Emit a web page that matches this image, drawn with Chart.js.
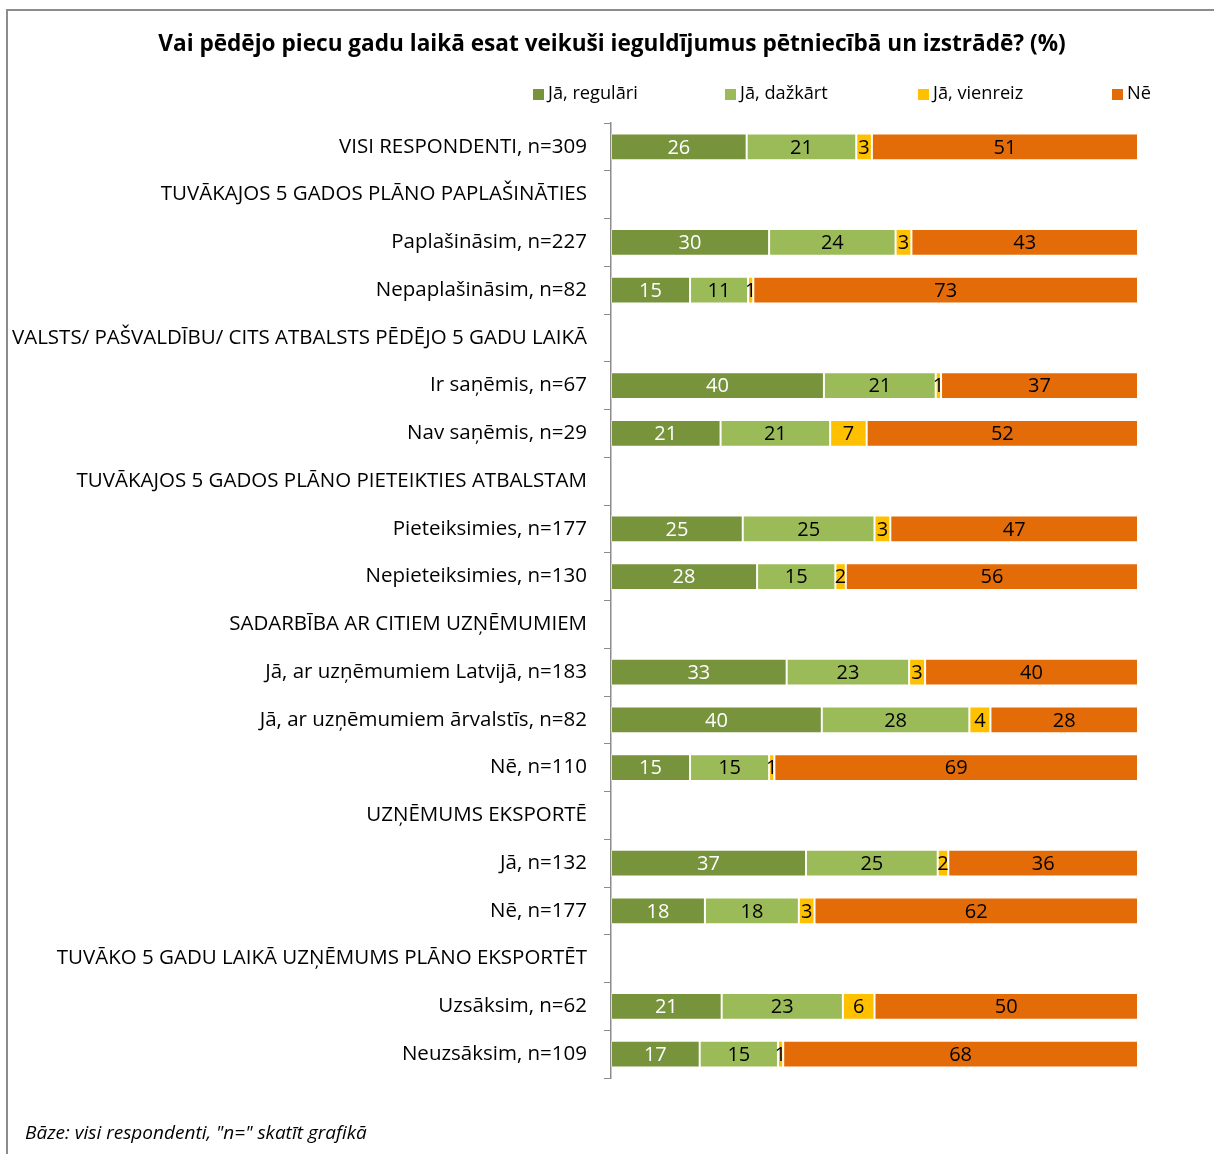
<!DOCTYPE html>
<html><head><meta charset="utf-8">
<script src="https://cdn.jsdelivr.net/npm/chart.js@4.4.1/dist/chart.umd.min.js"></script>
<style>
html,body{margin:0;padding:0;background:#fff;}
#wrap{position:relative;width:1214px;height:1154px;overflow:hidden;}
#frame{position:absolute;left:6px;top:9px;width:1220px;height:1160px;border-left:2px solid #8c8c8c;border-top:2px solid #8c8c8c;}
#c{position:absolute;left:0;top:0;}
#foot{position:absolute;left:25px;top:1119px;font-family:"Open Sans",sans-serif;font-style:italic;font-size:19px;color:#000;}
</style></head>
<body><div id="wrap"><div id="frame"></div><canvas id="c" width="1214" height="1154"></canvas>
<div id="foot">Bāze: visi respondenti, "n=" skatīt grafikā</div></div>
<script>
const titleText = 'Vai pēdējo piecu gadu laikā esat veikuši ieguldījumus pētniecībā un izstrādē? (%)';
const categories = [
 'VISI RESPONDENTI, n=309',
 'TUVĀKAJOS 5 GADOS PLĀNO PAPLAŠINĀTIES',
 'Paplašināsim, n=227',
 'Nepaplašināsim, n=82',
 'VALSTS/ PAŠVALDĪBU/ CITS ATBALSTS PĒDĒJO 5 GADU LAIKĀ',
 'Ir saņēmis, n=67',
 'Nav saņēmis, n=29',
 'TUVĀKAJOS 5 GADOS PLĀNO PIETEIKTIES ATBALSTAM',
 'Pieteiksimies, n=177',
 'Nepieteiksimies, n=130',
 'SADARBĪBA AR CITIEM UZŅĒMUMIEM',
 'Jā, ar uzņēmumiem Latvijā, n=183',
 'Jā, ar uzņēmumiem ārvalstīs, n=82',
 'Nē, n=110',
 'UZŅĒMUMS EKSPORTĒ',
 'Jā, n=132',
 'Nē, n=177',
 'TUVĀKO 5 GADU LAIKĀ UZŅĒMUMS PLĀNO EKSPORTĒT',
 'Uzsāksim, n=62',
 'Neuzsāksim, n=109'
];
const seriesNames = ['Jā, regulāri','Jā, dažkārt','Jā, vienreiz','Nē'];
const regulari = [26,null,30,15,null,40,21,null,25,28,null,33,40,15,null,37,18,null,21,17];
const dazkart  = [21,null,24,11,null,21,21,null,25,15,null,23,28,15,null,25,18,null,23,15];
const vienreiz = [3,null,3,1,null,1,7,null,3,2,null,3,4,1,null,2,3,null,6,1];
const ne       = [51,null,43,73,null,37,52,null,47,56,null,40,28,69,null,36,62,null,50,68];
const colors = ['#77933C','#9BBB59','#FFC000','#E36C09'];
const labelColors = ['#ffffff','#000000','#000000','#000000'];

const raw = [regulari,dazkart,vienreiz,ne];
const totals = categories.map((_,i)=> raw.reduce((s,a)=> s + (a[i]||0), 0));
const FONT = '"Open Sans", sans-serif';

const datasets = raw.map((arr,k)=>({
  label: seriesNames[k],
  rawValues: arr,
  data: arr.map((v,i)=> v==null ? null : v*100/totals[i]),
  backgroundColor: colors[k],
  borderColor: 'rgba(255,255,255,0.35)',
  borderWidth: 1,
  borderSkipped: false,
  categoryPercentage: 1,
  barPercentage: 0.56
}));

const decor = {
  id:'decor',
  afterDraw(chart){
    const ctx = chart.ctx;
    ctx.save();
    ctx.fillStyle = '#000';
    ctx.font = 'bold 22.6px ' + FONT;
    ctx.textAlign = 'center'; ctx.textBaseline = 'middle';
    ctx.fillText(titleText, 612, 45);
    ctx.font = '18.2px ' + FONT;
    ctx.textAlign = 'left';
    const lx = [533, 725, 918, 1112];
    chart.data.datasets.forEach((ds,k)=>{
      ctx.fillStyle = ds.backgroundColor;
      ctx.fillRect(lx[k], 89, 11, 11);
      ctx.fillStyle = '#000';
      ctx.fillText(ds.label, lx[k]+15, 94);
    });
    ctx.font = '20px ' + FONT;
    ctx.textAlign = 'center';
    chart.data.datasets.forEach((ds,k)=>{
      const meta = chart.getDatasetMeta(k);
      meta.data.forEach((bar,i)=>{
        const v = ds.rawValues[i];
        if (v==null) return;
        const p = bar.getProps(['x','base','y'], true);
        ctx.fillStyle = labelColors[k];
        ctx.fillText(String(v), (p.x + p.base)/2, p.y + 1);
      });
    });
    ctx.restore();
  }
};

new Chart(document.getElementById('c'), {
  type:'bar',
  data:{ labels: categories, datasets },
  options:{
    indexAxis:'y',
    responsive:false,
    animation:false,
    layout:{ padding:{ left:8, top:123, right:76, bottom:76 } },
    plugins:{ legend:{display:false}, title:{display:false}, tooltip:{enabled:false} },
    scales:{
      x:{ stacked:true, min:0, max:100, display:false },
      y:{
        stacked:true,
        offset:true,
        afterFit(s){ s.width = 603; },
        grid:{ offset:true, drawOnChartArea:false, tickLength:7, color:'#8c8c8c', tickColor:'#8c8c8c' },
        border:{ display:true, color:'#8c8c8c', width:1.5 },
        ticks:{ color:'#000', font:{ family:FONT, size:20.5 }, padding:17, autoSkip:false }
      }
    }
  },
  plugins:[decor]
});
</script></body></html>
